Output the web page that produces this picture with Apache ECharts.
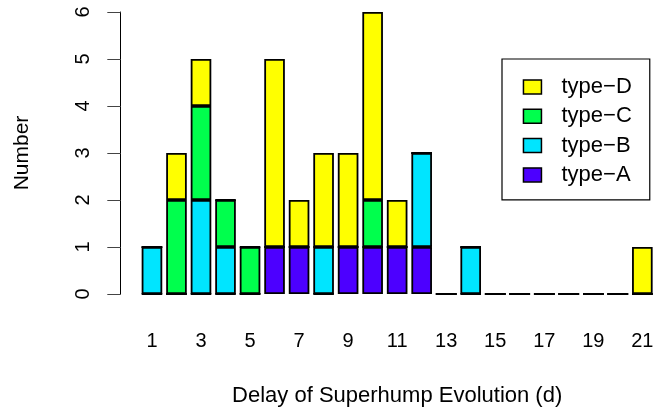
<!DOCTYPE html>
<html>
<head>
<meta charset="utf-8">
<script src="https://cdn.jsdelivr.net/npm/echarts@6/dist/echarts.min.js"></script>
<style>html,body{margin:0;padding:0;background:#fff}#c{width:659px;height:413px}</style>
</head>
<body>
<div id="c"></div>
<script>
var categories = ['1','2','3','4','5','6','7','8','9','10','11','12','13','14','15','16','17','18','19','20','21'];
var typeA = [0,0,0,0,0,1,1,0,1,1,1,1,0,0,0,0,0,0,0,0,0];
var typeB = [1,0,2,1,0,0,0,1,0,0,0,2,0,1,0,0,0,0,0,0,0];
var typeC = [0,2,2,1,1,0,0,0,0,1,0,0,0,0,0,0,0,0,0,0,0];
var typeD = [0,1,1,0,0,4,1,2,2,4,1,0,0,0,0,0,0,0,0,0,1];
var yTicks = [0,1,2,3,4,5,6];

var FONT = '"Liberation Sans", Arial, sans-serif';
var chart = echarts.init(document.getElementById('c'), null, {renderer:'canvas'});
function mk(name, data, color){
  return {name:name, type:'bar', stack:'all', data:data, barWidth:20.6,
    itemStyle:{color:color, borderColor:'#000', borderWidth:1.8}, animation:false};
}
chart.setOption({
  animation:false,
  textStyle:{fontFamily:FONT},
  grid:{left:139.7, right:4.4, top:12, bottom:119, containLabel:false},
  legend:{
    orient:'vertical', left:502, top:59,
    data:['type-D','type-C','type-B','type-A'],
    formatter:function(n){return n.replace('-','\u2212');},
    icon:'rect',
    itemWidth:18, itemHeight:14, itemGap:7.3,
    padding:[17,18,14,20.7],
    borderColor:'#000', borderWidth:1.2,
    itemStyle:{borderColor:'#000', borderWidth:1.5},
    textStyle:{fontFamily:FONT, fontSize:22, color:'#000', padding:[0,0,0,15]}
  },
  xAxis:{
    type:'category', data:categories,
    axisLine:{show:false}, axisTick:{show:false},
    axisLabel:{interval:1, fontSize:20, color:'#000', margin:37, fontFamily:FONT},
    name:'Delay of Superhump Evolution (d)', nameLocation:'middle', nameGap:91,
    nameTextStyle:{fontSize:22, color:'#000', fontFamily:FONT}
  },
  yAxis:{
    type:'value', min:0, max:6, interval:1, offset:19,
    splitLine:{show:false},
    axisLine:{show:true, lineStyle:{color:'#000', width:1}},
    axisTick:{show:true, length:13.4, lineStyle:{color:'#444', width:1}},
    axisLabel:{rotate:90, fontSize:20, color:'#000', margin:27, fontFamily:FONT,
      formatter:function(v){return yTicks.indexOf(v)>=0? String(v):'';}},
    name:'Number', nameLocation:'middle', nameGap:88, nameRotate:90,
    nameTextStyle:{fontSize:21, color:'#000', fontFamily:FONT}
  },
  series:[
    mk('type-A', typeA, '#4C00FF'),
    mk('type-B', typeB, '#00E5FF'),
    mk('type-C', typeC, '#00FF4D'),
    mk('type-D', typeD, '#FFFF00')
  ]
});
</script>
</body>
</html>
